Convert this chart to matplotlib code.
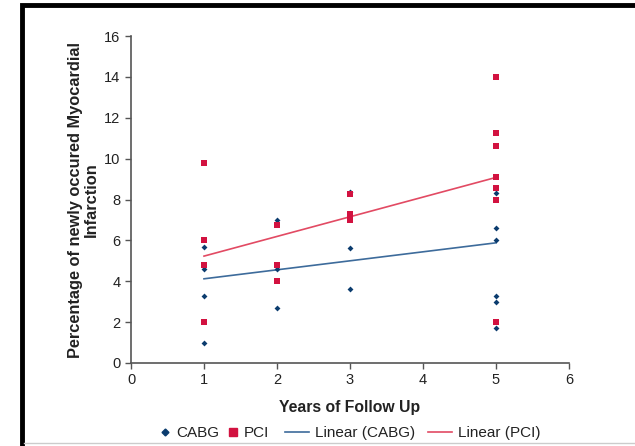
import matplotlib
matplotlib.use("Agg")
import matplotlib.pyplot as plt
from matplotlib.lines import Line2D
from matplotlib.patches import Rectangle

plt.rcParams["font.family"] = ["Liberation Sans", "DejaVu Sans"]

# data
cabg_x = [1, 1, 1, 1, 2, 2, 2, 3, 3, 3, 5, 5, 5, 5, 5, 5]
cabg_y = [5.7, 4.6, 3.3, 1.0, 7.0, 4.6, 2.7, 8.35, 5.65, 3.6, 8.3, 6.6, 6.0, 3.3, 3.0, 1.7]
pci_x = [1, 1, 1, 1, 2, 2, 2, 3, 3, 3, 3, 5, 5, 5, 5, 5, 5, 5]
pci_y = [9.8, 6.0, 4.8, 2.0, 6.75, 4.8, 4.0, 8.25, 7.3, 7.15, 7.0,
         14.0, 11.25, 10.6, 9.1, 8.55, 8.0, 2.0]

# trend line ends (x = 1 and x = 5)
trend_x = [1, 5]
cabg_trend = [4.12, 5.88]
pci_trend = [5.23, 9.08]

x_ticks = [0, 1, 2, 3, 4, 5, 6]
y_ticks = [0, 2, 4, 6, 8, 10, 12, 14, 16]

cabg_color = "#0b3c6e"
cabg_line = "#3d6b9b"
pci_color = "#d21240"
pci_line = "#e24a63"
axis_color = "#555555"
text_color = "#222222"

fig = plt.figure(figsize=(6.35, 4.46), dpi=100)
ax = fig.add_axes([131 / 635, 1 - 363 / 446, 438 / 635, 327 / 446])

ax.plot(trend_x, cabg_trend, color=cabg_line, lw=1.2, zorder=2)
ax.plot(trend_x, pci_trend, color=pci_line, lw=1.2, zorder=2)
ax.scatter(cabg_x, cabg_y, marker="D", s=9, color=cabg_color, zorder=3, linewidths=0)
ax.scatter(pci_x, pci_y, marker="s", s=22, color=pci_color, zorder=4, linewidths=0)

ax.set_xlim(0, 6)
ax.set_ylim(0, 16)
ax.set_xticks(x_ticks)
ax.set_yticks(y_ticks)
for side in ["top", "right"]:
    ax.spines[side].set_visible(False)
for side in ["left", "bottom"]:
    ax.spines[side].set_color(axis_color)
    ax.spines[side].set_linewidth(1.2)
ax.tick_params(colors=axis_color, labelcolor=text_color, labelsize=10.5,
               length=4, width=1)

ax.set_xlabel("Years of Follow Up", fontsize=11.3, fontweight="bold",
              color=text_color, labelpad=9)
ax.set_ylabel("Percentage of newly occured Myocardial\nInfarction", fontsize=11.8,
              fontweight="bold", color=text_color, labelpad=4, linespacing=1.05)

# legend in two pieces: marker keys are packed tighter than line keys
legend_y = 1 - 433 / 446
marker_keys = [
    Line2D([], [], ls="none", marker="D", ms=3.5, color=cabg_color),
    Line2D([], [], ls="none", marker="s", ms=5.5, color=pci_color),
]
line_keys = [
    Line2D([], [], color=cabg_line, lw=1.2),
    Line2D([], [], color=pci_line, lw=1.2),
]
fig.legend(marker_keys, ["CABG", "PCI"], loc="center left",
           bbox_to_anchor=(160 / 635, legend_y), ncol=2, frameon=False,
           fontsize=11, handlelength=0.6, handletextpad=0.45,
           columnspacing=0.6, borderpad=0, borderaxespad=0,
           labelcolor=text_color)
fig.legend(line_keys, ["Linear (CABG)", "Linear (PCI)"], loc="center left",
           bbox_to_anchor=(285 / 635, legend_y), ncol=2, frameon=False,
           fontsize=11, handlelength=1.6, handletextpad=0.35,
           columnspacing=0.85, borderpad=0, borderaxespad=0,
           labelcolor=text_color)

# outer frame (left and top edges visible, the rest runs off the image)
fig.patches.append(Rectangle((22 / 635, -0.2), 1.2, 1.2 - 5 / 446,
                             transform=fig.transFigure, fill=False,
                             edgecolor="black", lw=3.5))
fig.add_artist(Line2D([24 / 635, 1], [1 - 443 / 446] * 2, transform=fig.transFigure,
                      color="#cccccc", lw=1))

fig.savefig("out.png", dpi=100)
